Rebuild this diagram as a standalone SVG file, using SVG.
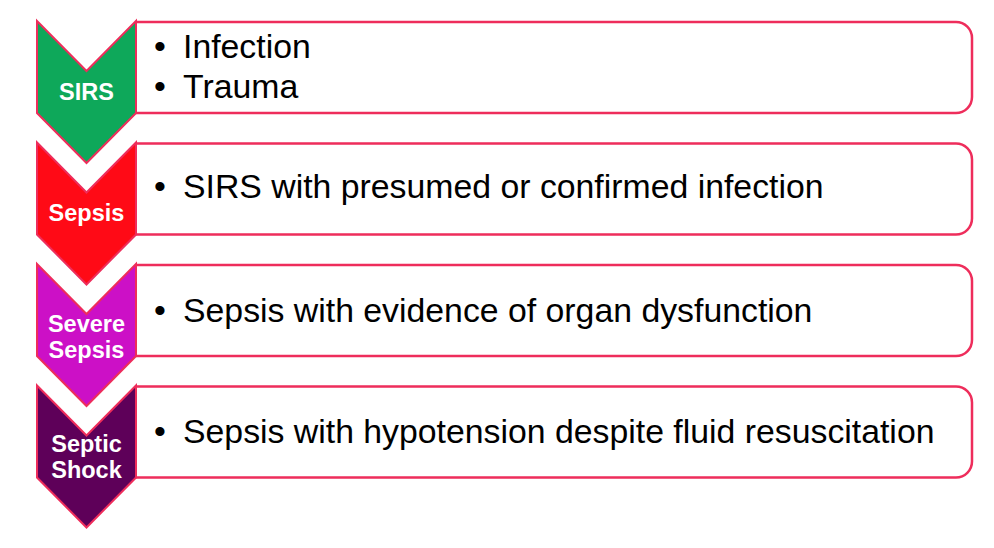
<svg xmlns="http://www.w3.org/2000/svg" width="994" height="548" viewBox="0 0 994 548">
<style>
.box{fill:#fff;stroke:#ee2d5b;stroke-width:2.5}
.chev{stroke:#ee2d5b;stroke-width:2;stroke-linejoin:miter}
.lbl{font-family:"Liberation Sans",Arial,sans-serif;font-weight:bold;font-size:23.5px;fill:#fff;text-anchor:middle}
.txt{font-family:"Liberation Sans",Arial,sans-serif;font-size:33.8px;fill:#000}
</style>
<rect width="994" height="548" fill="#fff"/>
<g id="row-sirs">
<path class="box" d="M136,22 H956 A16,16 0 0 1 972,38 V97 A16,16 0 0 1 956,113 H136"/>
<path class="chev" fill="#0ea85a" d="M37,21 L86.5,71 L136,21 L136,113 L86.5,163 L37,113 Z"/>
<text class="lbl" x="86.5" y="100">SIRS</text>
<text class="txt" x="154" y="58">•</text><text class="txt" x="183" y="58">Infection</text>
<text class="txt" x="154" y="98">•</text><text class="txt" x="183" y="98">Trauma</text>
</g>
<g id="row-sepsis">
<path class="box" d="M136,143.5 H956 A16,16 0 0 1 972,159.5 V218.5 A16,16 0 0 1 956,234.5 H136"/>
<path class="chev" fill="#ff0a16" d="M37,142.5 L86.5,192.5 L136,142.5 L136,234.5 L86.5,284.5 L37,234.5 Z"/>
<text class="lbl" x="86.5" y="221">Sepsis</text>
<text class="txt" x="154" y="198">•</text><text class="txt" x="183" y="198">SIRS with presumed or confirmed infection</text>
</g>
<g id="row-severe-sepsis">
<path class="box" d="M136,265 H956 A16,16 0 0 1 972,281 V340 A16,16 0 0 1 956,356 H136"/>
<path class="chev" fill="#cc10c6" d="M37,264 L86.5,314 L136,264 L136,356 L86.5,406 L37,356 Z"/>
<text class="lbl" x="86.5" y="332">Severe</text>
<text class="lbl" x="86.5" y="358">Sepsis</text>
<text class="txt" x="154" y="322">•</text><text class="txt" x="183" y="322">Sepsis with evidence of organ dysfunction</text>
</g>
<g id="row-septic-shock">
<path class="box" d="M136,386.5 H956 A16,16 0 0 1 972,402.5 V461.5 A16,16 0 0 1 956,477.5 H136"/>
<path class="chev" fill="#5e0059" d="M37,385.5 L86.5,435.5 L136,385.5 L136,477.5 L86.5,527.5 L37,477.5 Z"/>
<text class="lbl" x="86.5" y="452">Septic</text>
<text class="lbl" x="86.5" y="478">Shock</text>
<text class="txt" x="154" y="443">•</text><text class="txt" x="183" y="443">Sepsis with hypotension despite fluid resuscitation</text>
</g>
<g id="connectors"></g>
</svg>
